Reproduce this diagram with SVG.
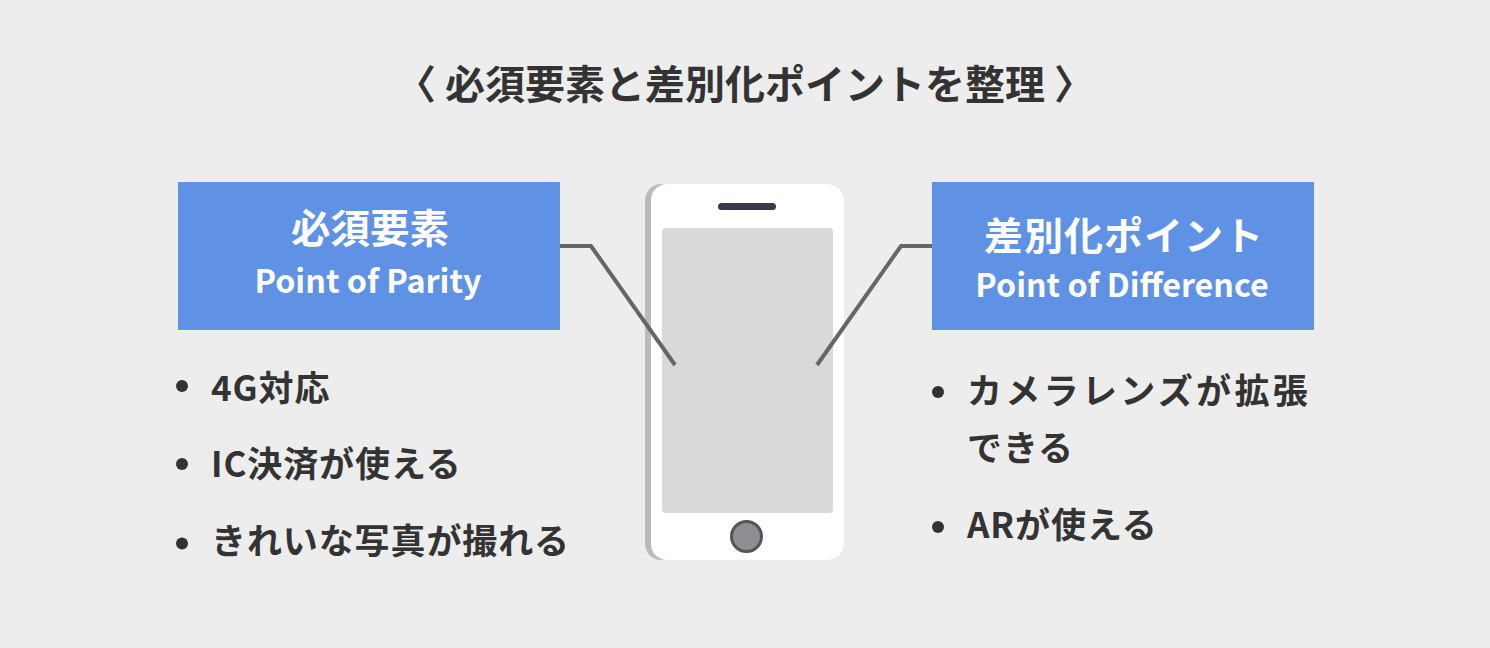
<svg xmlns="http://www.w3.org/2000/svg" width="1490" height="648" viewBox="0 0 1490 648">
<style>
text{font-family:"Noto Sans CJK JP","Noto Sans",sans-serif;font-weight:700;fill:#333}
circle.d{fill:#333}
.h{fill:#fff;text-anchor:middle}
.b{fill:#5f91e5}
.l{font-size:35px;letter-spacing:.9px}
.w{letter-spacing:3.300px}
.c{fill:none;stroke:#666;stroke-width:4}
</style>
<rect width="1490" height="648" fill="#ededed"/>
<text id="title" x="745" y="99" font-size="40" text-anchor="middle">〈 必須要素と差別化ポイントを整理 〉</text>
<g id="phone">
<rect x="645" y="184" width="199" height="376" rx="16" fill="#bbb"/>
<path d="M667 184H828a16 16 0 0 1 16 16V544a16 16 0 0 1-16 16H667a16 16 0 0 1-16-16V200a16 16 0 0 1 16-16Z" fill="#fff"/>
<rect x="718" y="203" width="58" height="7" rx="3.500" fill="#3a3a4f"/>
<rect x="662" y="228" width="171" height="285" rx="4" fill="#d9d9d9"/>
<circle cx="746.500" cy="536.500" r="15" fill="#8d8d93" stroke="#555" stroke-width="3"/>
</g>
<g id="connectors">
<path class="c" d="M560 246H591L675 365"/>
<path class="c" d="M932 246H901L817 365"/>
</g>
<g id="left-box">
<rect class="b" x="178" y="182" width="382" height="148"/>
<text class="h" x="370" y="243" font-size="39.500">必須要素</text>
<text class="h" x="368" y="293" font-size="32.300">Point of Parity</text>
</g>
<g id="right-box">
<rect class="b" x="932" y="182" width="382" height="148"/>
<text class="h" x="1124" y="250" font-size="39" letter-spacing="1">差別化ポイント</text>
<text class="h" x="1122" y="297" font-size="32.200">Point of Difference</text>
</g>
<g id="left-list">
<circle class="d" cx="182" cy="386" r="6"/>
<text class="l" x="211" y="401">4G対応</text>
<circle class="d" cx="182" cy="464" r="6"/>
<text class="l" x="211" y="477">IC決済が使える</text>
<circle class="d" cx="182" cy="543.500" r="6"/>
<text class="l" x="211" y="554">きれいな写真が撮れる</text>
</g>
<g id="right-list">
<circle class="d" cx="938" cy="392" r="6"/>
<text class="l w" x="967" y="404">カメラレンズが拡張</text>
<text class="l" x="967" y="461">できる</text>
<circle class="d" cx="938" cy="527" r="6"/>
<text class="l" x="967" y="538">ARが使える</text>
</g>
</svg>
